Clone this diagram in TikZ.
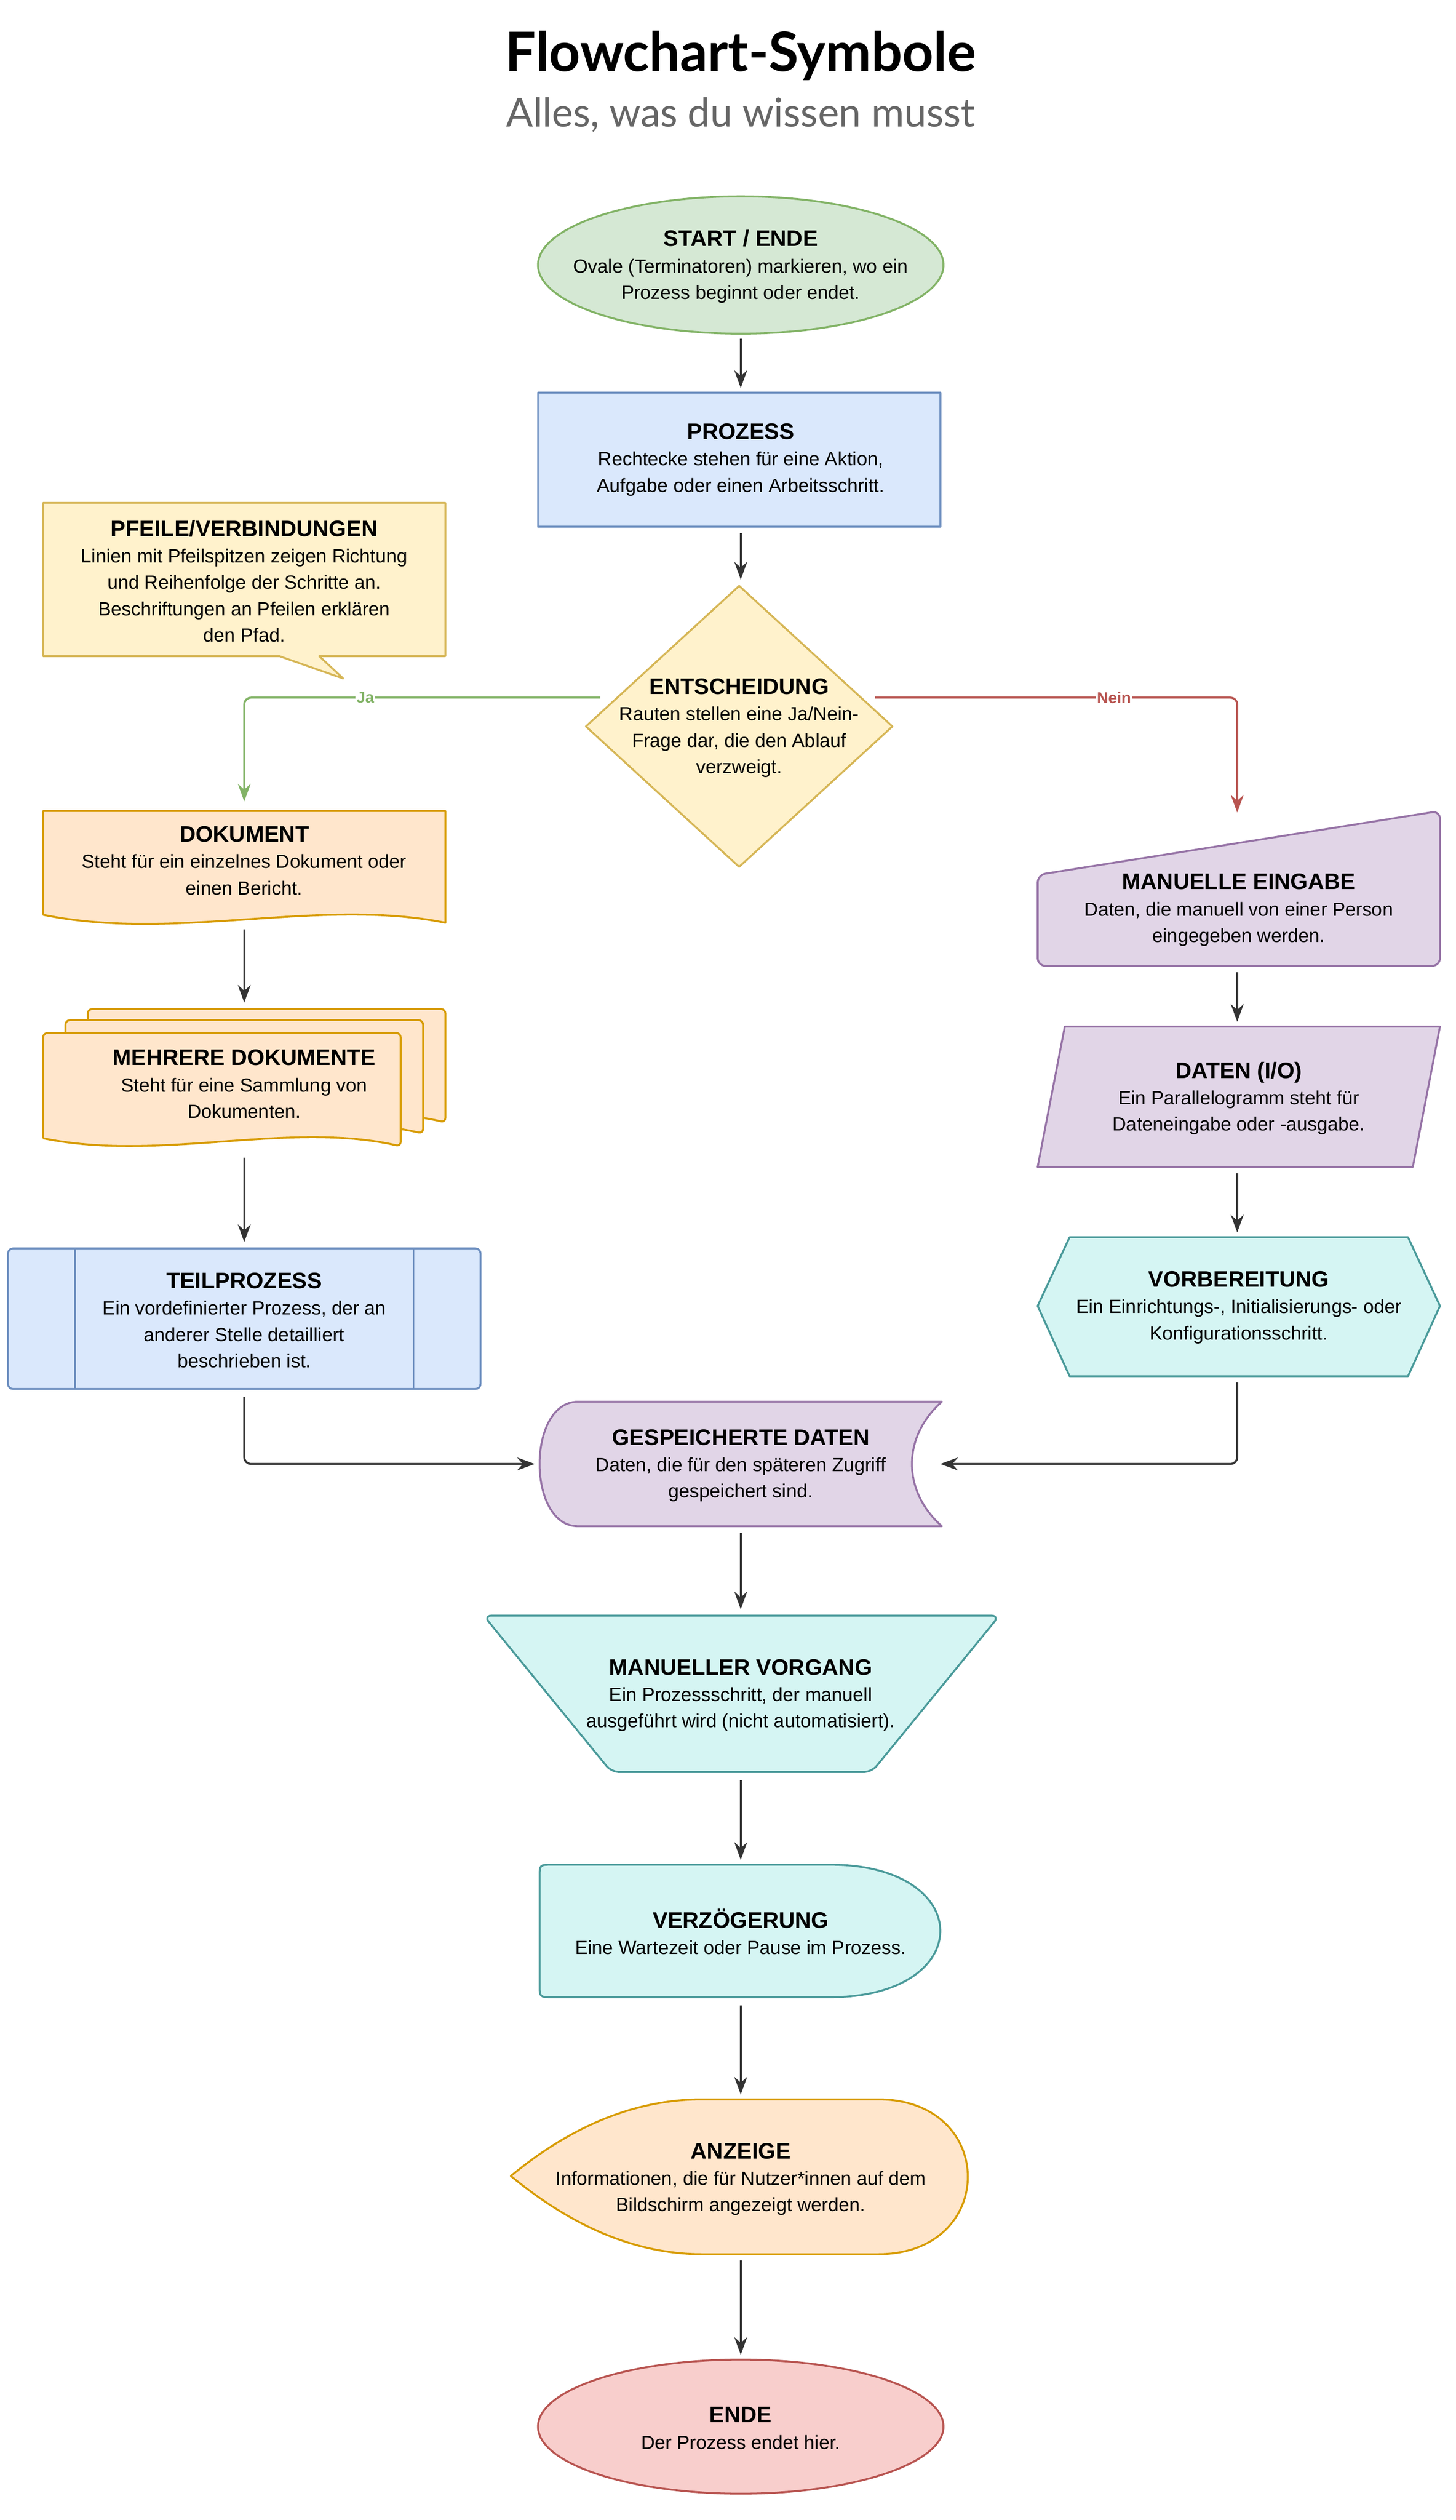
\documentclass[tikz,border=0pt]{standalone}
\usepackage{fontspec}
\setmainfont{Liberation Sans}
\newfontfamily\lato{Lato}
\usetikzlibrary{arrows.meta}
\definecolor{gF}{HTML}{D5E8D4}\definecolor{gS}{HTML}{82B366}
\definecolor{bF}{HTML}{DAE8FC}\definecolor{bS}{HTML}{6C8EBF}
\definecolor{yF}{HTML}{FFF2CC}\definecolor{yS}{HTML}{D6B656}
\definecolor{oF}{HTML}{FFE6CC}\definecolor{oS}{HTML}{D79B00}
\definecolor{pF}{HTML}{E1D5E7}\definecolor{pS}{HTML}{9673A6}
\definecolor{cF}{HTML}{D5F5F3}\definecolor{cS}{HTML}{4A9A9A}
\definecolor{rF}{HTML}{F8CECC}\definecolor{rS}{HTML}{B85450}
\definecolor{ln}{HTML}{333333}
\tikzset{
 shp/.style={line width=3.4pt,line join=round},
 txt/.style={align=center,font=\fontsize{34}{47}\selectfont,inner sep=0pt},
 arr/.style={line width=3.6pt,draw=ln,-{Stealth[length=1.1cm,width=0.8cm]}},
 lbl/.style={fill=white,font=\fontsize{28}{30}\selectfont\bfseries,inner sep=2pt},
}
\newcommand{\hd}[1]{{\fontsize{40}{47}\selectfont\bfseries #1}}
\begin{document}
\begin{tikzpicture}[x=0.1cm,y=-0.1cm]
\useasboundingbox (0,0) rectangle (912,1578.5);
\node[font=\lato\bfseries\fontsize{97}{100}\selectfont] (title) at (464,35) {Flowchart-Symbole};
\node[font=\lato\fontsize{71}{75}\selectfont,text=black!60] (sub) at (464,72) {Alles, was du wissen musst};
% start
\draw[shp,fill=gF,draw=gS] (464,166) ellipse [x radius=127,y radius=43];
\node[txt] (start) at (464,167) {\hd{START / ENDE}\\Ovale (Terminatoren) markieren, wo ein\\Prozess beginnt oder endet.};
% prozess
\draw[shp,fill=bF,draw=bS] (337,246) rectangle (589,330);
\node[txt] (proz) at (464,288) {\hd{PROZESS}\\Rechtecke stehen für eine Aktion,\\Aufgabe oder einen Arbeitsschritt.};
% callout
\draw[shp,fill=yF,draw=yS] (27,315)--(279,315)--(279,411)--(200,411)--(215,425)--(175,411)--(27,411)--cycle;
\node[txt] (call) at (153,364) {\hd{PFEILE/VERBINDUNGEN}\\Linien mit Pfeilspitzen zeigen Richtung\\und Reihenfolge der Schritte an.\\Beschriftungen an Pfeilen erklären\\den Pfad.};
% decision
\draw[shp,fill=yF,draw=yS] (463,367)--(559,455)--(463,543)--(367,455)--cycle;
\node[txt] (ent) at (463,456) {\hd{ENTSCHEIDUNG}\\Rauten stellen eine Ja/Nein-\\Frage dar, die den Ablauf\\verzweigt.};
% dokument
\draw[shp,fill=oF,draw=oS] (27,573)--(27,508)--(279,508)--(279,578) .. controls (200,562) and (110,590) .. (27,573);
\node[txt] (dok) at (153,539) {\hd{DOKUMENT}\\Steht für ein einzelnes Dokument oder\\einen Bericht.};
% mehrere
\foreach \dx/\dy in {28/-15,14/-8,0/0}{
\draw[shp,fill=oF,draw=oS,rounded corners=8] (27+\dx,713+\dy)--(27+\dx,647+\dy)--(251+\dx,647+\dy)--(251+\dx,718+\dy) [sharp corners] .. controls (180+\dx,702+\dy) and (100+\dx,728+\dy) .. (27+\dx,713+\dy);}
\node[txt] (meh) at (153,679) {\hd{MEHRERE DOKUMENTE}\\Steht für eine Sammlung von\\Dokumenten.};
% teilprozess
\draw[shp,fill=bF,draw=bS,rounded corners=9] (5,782) rectangle (301,870);
\draw[shp,draw=bS] (47,782)--(47,870) (259,782)--(259,870);
\node[txt] (teil) at (153,827) {\hd{TEILPROZESS}\\Ein vordefinierter Prozess, der an\\anderer Stelle detailliert\\beschrieben ist.};
% manuelle eingabe
\draw[shp,fill=pF,draw=pS,rounded corners=14] (650,548)--(902,508)--(902,605)--(650,605)--cycle;
\node[txt] (mein) at (776,570) {\hd{MANUELLE EINGABE}\\Daten, die manuell von einer Person\\eingegeben werden.};
% daten
\draw[shp,fill=pF,draw=pS] (667,643)--(902,643)--(885,731)--(650,731)--cycle;
\node[txt] (dat) at (776,688) {\hd{DATEN (I/O)}\\Ein Parallelogramm steht für\\Dateneingabe oder -ausgabe.};
% vorbereitung
\draw[shp,fill=cF,draw=cS] (670,775)--(882,775)--(902,818)--(882,862)--(670,862)--(650,818)--cycle;
\node[txt] (vor) at (776,819) {\hd{VORBEREITUNG}\\Ein Einrichtungs-, Initialisierungs- oder\\Konfigurationsschritt.};
% gespeicherte
\draw[shp,fill=pF,draw=pS] (362,878)--(590,878) .. controls (565,900) and (565,934) .. (590,956)--(362,956) .. controls (330,956) and (330,878) .. (362,878)--cycle;
\node[txt] (gesp) at (464,918) {\hd{GESPEICHERTE DATEN}\\Daten, die für den späteren Zugriff\\gespeichert sind.};
% manueller vorgang
\draw[shp,fill=cF,draw=cS,rounded corners=14] (303,1012)--(626,1012)--(546,1110)--(383,1110)--cycle;
\node[txt] (mvor) at (464,1062) {\hd{MANUELLER VORGANG}\\Ein Prozessschritt, der manuell\\ausgeführt wird (nicht automatisiert).};
% verzoegerung
\draw[shp,fill=cF,draw=cS] (346,1168)--(520,1168) .. controls (612,1168) and (612,1251) .. (520,1251)--(346,1251) .. controls (338,1251) and (338,1251) .. (338,1243)--(338,1176) .. controls (338,1168) and (338,1168) .. (346,1168)--cycle;
\node[txt] (verz) at (464,1210) {\hd{VERZÖGERUNG}\\Eine Wartezeit oder Pause im Prozess.};
% anzeige
\draw[shp,fill=oF,draw=oS] (320,1363) .. controls (360,1330) and (400,1315) .. (440,1315)--(550,1315) .. controls (625,1315) and (625,1412) .. (550,1412)--(440,1412) .. controls (400,1412) and (360,1396) .. (320,1363)--cycle;
\node[txt] (anz) at (464,1365) {\hd{ANZEIGE}\\Informationen, die für Nutzer*innen auf dem\\Bildschirm angezeigt werden.};
% ende
\draw[shp,fill=rF,draw=rS] (464,1520) ellipse [x radius=127,y radius=42];
\node[txt] (ende) at (464,1521) {\hd{ENDE}\\Der Prozess endet hier.};
% coordinates
\coordinate (a1) at (464,212); \coordinate (a2) at (464,243);
\coordinate (b1) at (464,334); \coordinate (b2) at (464,363);
\coordinate (ja1) at (376,437); \coordinate (ja2) at (153,502);
\coordinate (ne1) at (548,437); \coordinate (ne2) at (775,509);
\coordinate (c1) at (153,582); \coordinate (c2) at (153,628);
\coordinate (d1) at (153,725); \coordinate (d2) at (153,778);
\coordinate (e1) at (775,609); \coordinate (e2) at (775,640);
\coordinate (f1) at (775,735); \coordinate (f2) at (775,772);
\coordinate (g1) at (153,875); \coordinate (g2) at (335,917);
\coordinate (h1) at (775,866); \coordinate (h2) at (589,917);
\coordinate (i1) at (464,960); \coordinate (i2) at (464,1008);
\coordinate (j1) at (464,1115); \coordinate (j2) at (464,1165);
\coordinate (k1) at (464,1256); \coordinate (k2) at (464,1312);
\coordinate (l1) at (464,1416); \coordinate (l2) at (464,1475);
\draw[arr] (a1)--(a2);
\draw[arr] (b1)--(b2);
\draw[arr,draw=gS,-{Stealth[length=1.1cm,width=0.8cm]},rounded corners=12] (ja1) -| (ja2) node[pos=0.33,lbl,text=gS] {Ja};
\draw[arr,draw=rS,rounded corners=12] (ne1) -| (ne2) node[pos=0.33,lbl,text=rS] {Nein};
\draw[arr] (c1)--(c2);
\draw[arr] (d1)--(d2);
\draw[arr] (e1)--(e2);
\draw[arr] (f1)--(f2);
\draw[arr,rounded corners=12] (g1) |- (g2);
\draw[arr,rounded corners=12] (h1) |- (h2);
\draw[arr] (i1)--(i2);
\draw[arr] (j1)--(j2);
\draw[arr] (k1)--(k2);
\draw[arr] (l1)--(l2);
\end{tikzpicture}
\end{document}
